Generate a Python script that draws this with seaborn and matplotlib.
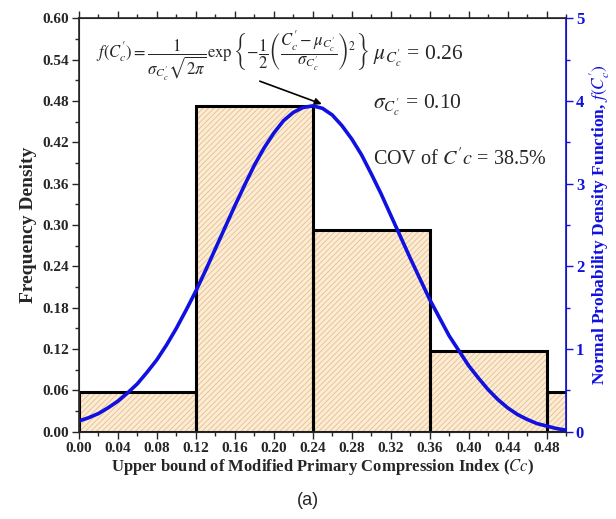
import numpy as np
import pandas as pd
import matplotlib
matplotlib.use('Agg')
import matplotlib.pyplot as plt
from matplotlib.ticker import MultipleLocator
import seaborn as sns

# histogram bins (upper bound Cc) and frequency density
bin_edges = [0.00, 0.12, 0.24, 0.36, 0.48, 0.60]
bin_left = [0.00, 0.12, 0.24, 0.36, 0.48]
freq_density = [0.058, 0.472, 0.293, 0.117, 0.058]

# normal pdf curve
pdf_x = [0.00, 0.01, 0.02, 0.03, 0.04, 0.05, 0.06, 0.07, 0.08, 0.09,
         0.10, 0.11, 0.12, 0.13, 0.14, 0.15, 0.16, 0.17, 0.18, 0.19,
         0.20, 0.21, 0.22, 0.23, 0.24, 0.25, 0.26, 0.27, 0.28, 0.29,
         0.30, 0.31, 0.32, 0.33, 0.34, 0.35, 0.36, 0.37, 0.38, 0.39,
         0.40, 0.41, 0.42, 0.43, 0.44, 0.45, 0.46, 0.47, 0.48, 0.49, 0.50]
pdf_y = [0.13, 0.17, 0.22, 0.29, 0.37, 0.47, 0.58, 0.72, 0.87, 1.05,
         1.25, 1.47, 1.70, 1.95, 2.21, 2.47, 2.73, 2.98, 3.22, 3.43,
         3.61, 3.76, 3.86, 3.92, 3.94, 3.91, 3.83, 3.70, 3.54, 3.35,
         3.12, 2.88, 2.62, 2.36, 2.10, 1.85, 1.60, 1.38, 1.16, 0.98,
         0.80, 0.65, 0.51, 0.39, 0.29, 0.21, 0.15, 0.10, 0.07, 0.04, 0.02]

hist_df = pd.DataFrame({'cc': bin_left, 'density': freq_density})
pdf_df = pd.DataFrame({'cc': pdf_x, 'pdf': pdf_y})

sns.set_style('ticks')
plt.rcParams['font.family'] = ['Liberation Serif', 'DejaVu Serif']
plt.rcParams['mathtext.fontset'] = 'stix'
plt.rcParams['hatch.linewidth'] = 0.6

blue = '#1010e0'

fig = plt.figure(figsize=(6.16, 5.19), dpi=100)
ax = fig.add_axes([0.128, 0.168, 0.791, 0.797])

# hatched fill
sns.histplot(data=hist_df, x='cc', weights='density', bins=bin_edges, stat='count',
             color='#fdebd2', alpha=1, linewidth=0, ax=ax)
for p in ax.patches:
    p.set_hatch('//////')
    p.set_edgecolor('#e2bf96')
    p.set_linewidth(0)
# black outlines
sns.histplot(data=hist_df, x='cc', weights='density', bins=bin_edges, stat='count',
             fill=False, color='black', linewidth=2.2, ax=ax)

ax.set_xlim(0, 0.50)
ax.set_ylim(0, 0.60)
ax.xaxis.set_minor_locator(MultipleLocator(0.02))
ax.yaxis.set_major_locator(MultipleLocator(0.06))
ax.yaxis.set_minor_locator(MultipleLocator(0.03))
ax.set_xticks(np.arange(0, 0.49, 0.04))
ax.set_xticklabels([f'{v:.2f}' for v in np.arange(0, 0.49, 0.04)])
ax.set_yticklabels([f'{v:.2f}' for v in ax.get_yticks()])
ax.tick_params(which='both', direction='out', top=True, width=1)
ax.tick_params(which='major', length=5, labelsize=11, pad=2)
ax.tick_params(which='minor', length=3)
for lab in ax.get_xticklabels() + ax.get_yticklabels():
    lab.set_fontweight('bold')
for s in ['left', 'bottom', 'top']:
    ax.spines[s].set_linewidth(1.2)

ax.set_xlabel(r'Upper bound of Modified Primary Compression Index ($\mathit{Cc}$)',
              fontsize=12, fontweight='bold', labelpad=2)
ax.set_ylabel('Frequency Density', fontsize=14, fontweight='bold', labelpad=4)

# pdf on the right axis
ax2 = ax.twinx()
sns.lineplot(data=pdf_df, x='cc', y='pdf', color=blue, linewidth=2.6, ax=ax2)
ax2.set_ylim(0, 5)
ax2.yaxis.set_major_locator(MultipleLocator(1))
ax2.yaxis.set_minor_locator(MultipleLocator(0.5))
ax2.tick_params(axis='y', which='both', direction='out', colors=blue, width=1)
ax2.tick_params(axis='y', which='major', length=5, labelsize=12, pad=2)
ax2.tick_params(axis='y', which='minor', length=3)
for lab in ax2.get_yticklabels():
    lab.set_fontweight('bold')
ax2.spines['right'].set_color(blue)
ax2.spines['right'].set_linewidth(1.2)
ax2.set_ylabel(r'Normal Probability Density Function, $\mathit{f(C_c^{\prime})}$',
               color=blue, fontsize=12.5, fontweight='bold', labelpad=2)

# formula and statistics
ax.text(0.018, 0.545,
        r'$f(C_c^{\prime})=\dfrac{1}{\sigma_{C_c^{\prime}}\sqrt{2\pi}}\exp\left\{-\dfrac{1}{2}\left(\dfrac{C_c^{\prime}-\mu_{C_c^{\prime}}}{\sigma_{C_c^{\prime}}}\right)^2\right\}$',
        fontsize=12, va='center', ha='left')
ax.annotate('', xy=(0.252, 0.474), xytext=(0.183, 0.510),
            arrowprops=dict(arrowstyle='-|>', color='black', lw=1.2, mutation_scale=10))
ax.text(0.302, 0.545, r'$\mu_{C_c^{\prime}}$ = 0.26', fontsize=15.5, va='center')
ax.text(0.302, 0.473, r'$\sigma_{C_c^{\prime}}$ = 0.10', fontsize=15.5, va='center')
ax.text(0.302, 0.395, r'COV of $C^{\prime}c$ = 38.5%', fontsize=14.5, va='center')

fig.text(0.5, 0.035, '(a)', fontsize=13, ha='center', va='center', family='Liberation Sans')

fig.savefig('out.png', dpi=100)
